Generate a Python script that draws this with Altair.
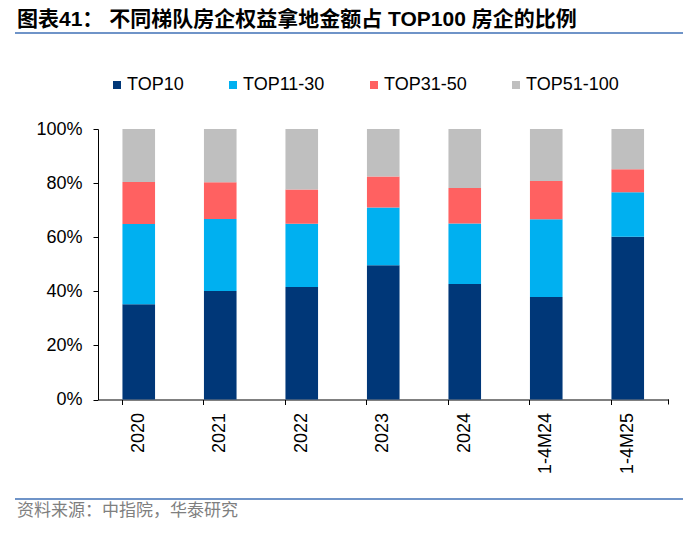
import altair as alt
import pandas as pd

categories = ["2020", "2021", "2022", "2023", "2024", "1-4M24", "1-4M25"]
series = ["TOP10", "TOP11-30", "TOP31-50", "TOP51-100"]
top10 = [35.2, 40.1, 41.6, 49.6, 42.7, 37.9, 60.2]
top11_30 = [29.7, 26.6, 23.4, 21.4, 22.4, 28.7, 16.4]
top31_50 = [15.5, 13.6, 12.6, 11.4, 13.1, 14.2, 8.5]
top51_100 = [19.6, 19.7, 22.4, 17.6, 21.8, 19.2, 14.9]
colors = ["#003778", "#00B0F0", "#FF6161", "#BFBFBF"]

title_text = "图表41：  不同梯队房企权益拿地金额占 TOP100 房企的比例"
source_text = "资料来源：中指院，华泰研究"

rows = []
for s_i, (s, vals) in enumerate(zip(series, [top10, top11_30, top31_50, top51_100])):
    for c, v in zip(categories, vals):
        rows.append({"cat": c, "series": s, "value": v, "order": s_i})
df = pd.DataFrame(rows)

W, H = 570.5, 270.5
FONT = "Liberation Sans, Arial, Noto Sans CJK SC"

bars = alt.Chart(df).mark_bar().encode(
    x=alt.X("cat:N", sort=categories, title=None,
            scale=alt.Scale(paddingInner=0.6, paddingOuter=0.3),
            axis=alt.Axis(labelAngle=270, labelFontSize=18, labelFont=FONT,
                          labelColor="#000", bandPosition=0, tickSize=5,
                          tickColor="#000", domainColor="#000", labelPadding=8)),
    y=alt.Y("value:Q", stack="normalize", title=None,
            scale=alt.Scale(domain=[0, 1]),
            axis=alt.Axis(format=".0%", values=[0, 0.2, 0.4, 0.6, 0.8, 1.0],
                          labelFontSize=18, labelFont=FONT, labelColor="#000",
                          tickSize=5, tickColor="#000", domainColor="#000",
                          grid=False, labelPadding=11)),
    color=alt.Color("series:N", sort=series,
                    scale=alt.Scale(domain=series, range=colors),
                    legend=alt.Legend(title=None, orient="none", direction="horizontal",
                                      legendX=10, legendY=-53, symbolType="square",
                                      symbolSize=64, symbolStrokeWidth=0,
                                      labelFontSize=18, labelFont=FONT, labelColor="#000",
                                      columnPadding=40, labelOffset=1, gridAlign="none",
                                      padding=0)),
    order=alt.Order("order:Q", sort="ascending"),
)

end_tick = alt.Chart(pd.DataFrame({"a": [0]})).mark_rule(color="#000").encode(
    x=alt.value(W), y=alt.value(H), y2=alt.value(H + 5))

title = alt.Chart(pd.DataFrame({"t": [title_text]})).mark_text(
    align="left", baseline="middle", fontSize=21, fontWeight="bold",
    font="Liberation Sans, Noto Sans CJK SC", color="#000").encode(
    text="t:N", x=alt.value(-81), y=alt.value(-109))

top_line = alt.Chart(pd.DataFrame({"a": [0]})).mark_rule(color="#6F94C8", strokeWidth=2).encode(
    x=alt.value(-83), x2=alt.value(585), y=alt.value(-96))

bottom_line = alt.Chart(pd.DataFrame({"a": [0]})).mark_rule(color="#6F94C8", strokeWidth=2).encode(
    x=alt.value(-83), x2=alt.value(585), y=alt.value(370))

source = alt.Chart(pd.DataFrame({"t": [source_text]})).mark_text(
    align="left", baseline="middle", fontSize=17,
    font="Noto Sans CJK SC", color="#7F7F7F").encode(
    text="t:N", x=alt.value(-81), y=alt.value(382))

chart = alt.layer(bars, end_tick, title, top_line, bottom_line, source).properties(
    width=W, height=H,
    autosize=alt.AutoSizeParams(type="none"),
    padding={"left": 90, "top": 121, "right": 23, "bottom": 127},
).configure_view(stroke=None)

chart.save("out.html", embed_options={"renderer": "svg", "actions": False})
